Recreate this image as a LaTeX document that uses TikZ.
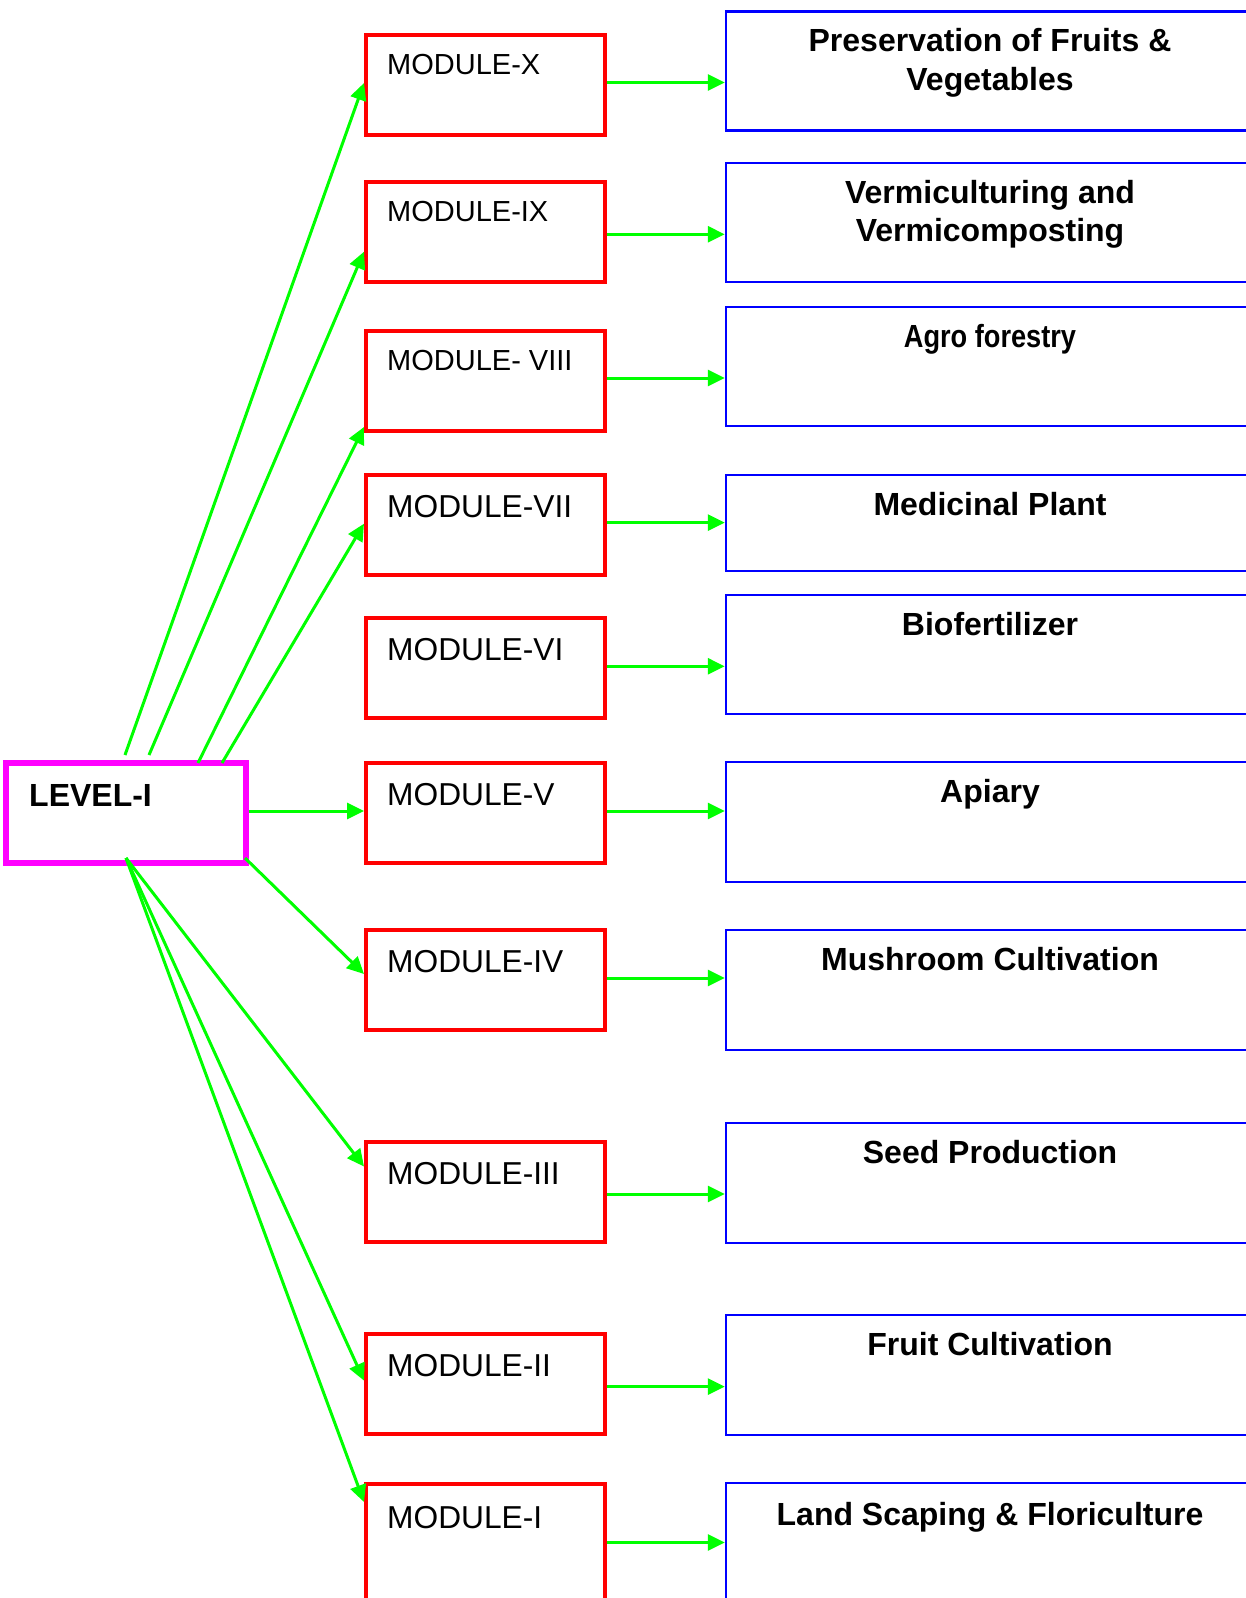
\documentclass[tikz,border=0pt]{standalone}
\usepackage{fontspec}
\setmainfont{Liberation Sans}
\usetikzlibrary{arrows.meta,calc}
\definecolor{gr}{RGB}{0,255,0}
\definecolor{rd}{RGB}{255,0,0}
\definecolor{bl}{RGB}{0,0,255}
\definecolor{mg}{RGB}{255,0,255}
\begin{document}
\begin{tikzpicture}[x=1pt,y=-1pt,
  lvl/.style={draw=mg, line width=6pt, minimum width=240pt, minimum height=100pt, inner sep=0pt},
  mod/.style={draw=rd, line width=4pt, minimum width=239pt, minimum height=100pt, inner sep=0pt},
  topic/.style={draw=bl, line width=2.5pt, minimum width=532pt, minimum height=119pt, inner sep=0pt},
  smalltxt/.style={anchor=base west, inner sep=0pt, font=\fontsize{29}{35}\selectfont},
  bigtxt/.style={anchor=base west, inner sep=0pt, font=\fontsize{31.7}{38}\selectfont},
  toptxt/.style={anchor=base, inner sep=0pt, align=center, font=\fontsize{32}{38.4}\selectfont\bfseries},
  arr/.style={draw=gr, line width=3pt, -{Triangle[length=17pt,width=16pt]}}]
\useasboundingbox (0,0) rectangle (1246,1598);

% level box
\node[lvl] (L) at (125.5,813) {};
\node[anchor=base west, inner sep=0pt, font=\fontsize{32}{38}\selectfont\bfseries] (Lt) at (29,806.7) {LEVEL-I};

% module boxes
\node[mod] (m10) at (485.5,85) {};
\node[mod] (m9) at (485.5,232) {};
\node[mod] (m8) at (485.5,381) {};
\node[mod] (m7) at (485.5,525) {};
\node[mod] (m6) at (485.5,668) {};
\node[mod] (m5) at (485.5,813) {};
\node[mod] (m4) at (485.5,980) {};
\node[mod] (m3) at (485.5,1192) {};
\node[mod] (m2) at (485.5,1384) {};
\node[mod, minimum height=140pt] (m1) at (485.5,1554) {};

\node[smalltxt] (t10) at (387,74) {MODULE-X};
\node[smalltxt] (t9) at (387,221) {MODULE-IX};
\node[smalltxt] (t8) at (387,370) {MODULE- VIII};
\node[bigtxt] (t7) at (387,517) {MODULE-VII};
\node[bigtxt] (t6) at (387,660) {MODULE-VI};
\node[bigtxt] (t5) at (387,805) {MODULE-V};
\node[bigtxt] (t4) at (387,972) {MODULE-IV};
\node[bigtxt] (t3) at (387,1184) {MODULE-III};
\node[bigtxt] (t2) at (387,1376) {MODULE-II};
\node[bigtxt] (t1) at (387,1528) {MODULE-I};

% topic boxes
\node[topic] (b10) at (992,71) {};
\node[topic] (b9) at (992,222.5) {};
\node[topic] (b8) at (992,366.5) {};
\node[topic, minimum height=96pt] (b7) at (992,523) {};
\node[topic] (b6) at (992,654.5) {};
\node[topic, minimum height=120pt] (b5) at (992,822) {};
\node[topic, minimum height=120pt] (b4) at (992,990) {};
\node[topic, minimum height=120pt] (b3) at (992,1183) {};
\node[topic, minimum height=120pt] (b2) at (992,1375) {};
\node[topic, minimum height=160pt] (b1) at (992,1563) {};

% base of a two-line node is its last line
\node[toptxt] (p10) at (990,90) {Preservation of Fruits \&\\Vegetables};
\node[toptxt] (p9) at (990,241.4) {Vermiculturing and\\Vermicomposting};
\node[toptxt] (p8) at (990,347) {\scalebox{0.85}[1]{Agro forestry}};
\node[toptxt] (p7) at (990,515) {Medicinal Plant};
\node[toptxt] (p6) at (990,635) {Biofertilizer};
\node[toptxt] (p5) at (990,802) {Apiary};
\node[toptxt] (p4) at (990,970) {Mushroom Cultivation};
\node[toptxt] (p3) at (990,1163) {Seed Production};
\node[toptxt] (p2) at (990,1355) {Fruit Cultivation};
\node[toptxt] (p1) at (990,1525) {Land Scaping \& Floriculture};

% horizontal arrows module -> topic
\coordinate (h10) at (0,82.5);
\coordinate (h9) at (0,234.3);
\coordinate (h8) at (0,378);
\coordinate (h7) at (0,522.6);
\coordinate (h6) at (0,666.3);
\coordinate (h5) at (0,811);
\coordinate (h4) at (0,978);
\coordinate (h3) at (0,1194);
\coordinate (h2) at (0,1386.6);
\coordinate (h1) at (0,1542.5);
\foreach \i in {1,...,10}{
  \draw[arr] (m\i.east |- h\i) -- (b\i.west |- h\i);
}

% level -> modules
\coordinate (s1) at (125,755);
\coordinate (s2) at (149,755);
\coordinate (s3) at (198,763);
\coordinate (s4) at (222,763);
\coordinate (s5) at (126,858);
\coordinate (s6) at (245,858);
\draw[arr] (s1) -- ($(m10.north west)+(0,50)$);
\draw[arr] (s2) -- ($(m9.north west)+(0,71.7)$);
\draw[arr] (s3) -- ($(m8.north west)+(0,98)$);
\draw[arr] (s4) -- ($(m7.north west)+(0,50.7)$);
\draw[arr] (L.east |- h5) -- (m5.west |- h5);
\draw[arr] (s6) -- ($(m4.north west)+(0,46)$);
\draw[arr] (s5) -- ($(m3.north west)+(0,26.5)$);
\draw[arr] (s5) -- ($(m2.north west)+(0,48.6)$);
\draw[arr] (s5) -- ($(m1.north west)+(0,20)$);
\end{tikzpicture}
\end{document}
